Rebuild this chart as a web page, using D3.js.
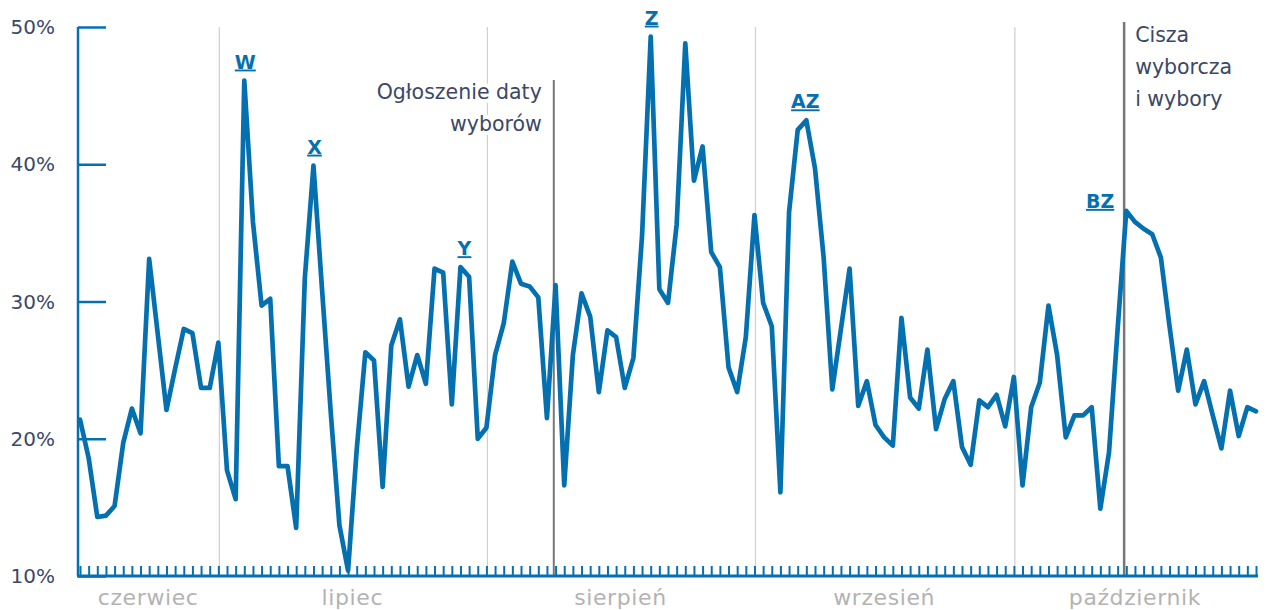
<!DOCTYPE html>
<html>
<head>
<meta charset="utf-8">
<script src="https://cdn.jsdelivr.net/npm/d3@7"></script>
<style>
  html, body { margin: 0; padding: 0; background: #fff; }
  svg { display: block; font-family: "DejaVu Sans", "Noto Sans", sans-serif; }
</style>
</head>
<body>
<svg id="chart" width="1266" height="610"></svg>
<script>
// ---- data ----
const startDate = "2023-06-15";
const endDate = "2023-10-29";
const values = [
  21.4, 18.6, 14.3, 14.4, 15.1, 19.7, 22.2, 20.4, 33.1, 27.6,
  22.1, 25.1, 28.0, 27.7, 23.7, 23.7, 27.0, 17.7, 15.6, 46.1,
  35.8, 29.7, 30.2, 18.0, 18.0, 13.5, 31.7, 39.9, 30.8, 21.9,
  13.7, 10.4, 19.2, 26.3, 25.7, 16.5, 26.8, 28.7, 23.8, 26.1,
  24.0, 32.4, 32.1, 22.5, 32.5, 31.8, 20.0, 20.8, 26.1, 28.4,
  32.9, 31.3, 31.1, 30.3, 21.5, 31.2, 16.6, 26.1, 30.6, 28.9,
  23.4, 27.9, 27.4, 23.7, 25.9, 34.8, 49.3, 30.9, 29.9, 35.6,
  48.8, 38.8, 41.3, 33.6, 32.5, 25.2, 23.4, 27.4, 36.3, 29.9,
  28.2, 16.1, 36.5, 42.5, 43.2, 39.7, 33.2, 23.6, 28.0, 32.4,
  22.4, 24.2, 21.0, 20.1, 19.5, 28.8, 23.0, 22.2, 26.5, 20.7,
  22.9, 24.2, 19.4, 18.1, 22.8, 22.3, 23.2, 20.9, 24.5, 16.6,
  22.3, 24.1, 29.7, 26.1, 20.1, 21.7, 21.7, 22.3, 14.9, 19.0,
  28.0, 36.6, 35.8, 35.3, 34.9, 33.2, 28.2, 23.5, 26.5, 22.5,
  24.2, 21.7, 19.3, 23.5, 20.2, 22.3, 22.0
];
const yTicks = [10, 20, 30, 40, 50];
const monthStarts = ["2023-07-01", "2023-08-01", "2023-09-01", "2023-10-01"];
const monthLabels = ["czerwiec", "lipiec", "sierpień", "wrzesień", "październik"];
const peakLabels = [
  { date: "2023-07-04", text: "W" },
  { date: "2023-07-12", text: "X" },
  { date: "2023-07-29", text: "Y" },
  { date: "2023-08-20", text: "Z" },
  { date: "2023-09-07", text: "AZ" },
  { date: "2023-10-14", text: "BZ" }
];
const events = [
  { date: "2023-08-08T19:00", lines: ["Ogłoszenie daty", "wyborów"], side: "left" },
  { date: "2023-10-13T18:00", lines: ["Cisza", "wyborcza", "i wybory"], side: "right" }
];

// ---- build ----
const parse = d3.timeParse("%Y-%m-%d");
const parseT = d3.isoParse;
const days = d3.timeDay.range(parse(startDate), d3.timeDay.offset(parse(endDate), 1));
const data = days.map((d, i) => ({ date: d, value: values[i] }));

const svg = d3.select("#chart");
const blue = "#0570b0";
const textDark = "#3b4866";
const x = d3.scaleTime().domain([parse(startDate), parse(endDate)]).range([80, 1256]);
const y = d3.scaleLinear().domain([10, 50]).range([576, 27]);
const axisLeftX = 78;

// month gridlines
svg.append("g").selectAll("line").data(monthStarts).join("line")
  .attr("x1", d => x(parse(d)) + 1).attr("x2", d => x(parse(d)) + 1)
  .attr("y1", y(50)).attr("y2", y(10))
  .attr("stroke", "#cfcfcf").attr("stroke-width", 1.2);

// event lines + text
events.forEach(ev => {
  const ex = x(parseT(ev.date));
  if (ev.side === "left") {
    svg.append("line").attr("x1", ex).attr("x2", ex).attr("y1", 80).attr("y2", y(10))
      .attr("stroke", "#777").attr("stroke-width", 2);
    const t = svg.append("text").attr("text-anchor", "end")
      .attr("font-size", 20.5).attr("fill", textDark)
      .attr("stroke", "#fff").attr("stroke-width", 8).attr("paint-order", "stroke")
      .attr("stroke-linejoin", "round");
    ev.lines.forEach((l, i) => t.append("tspan").attr("x", ex - 12).attr("y", 99 + i * 32).text(l));
  } else {
    svg.append("line").attr("x1", ex).attr("x2", ex).attr("y1", 22).attr("y2", y(10))
      .attr("stroke", "#777").attr("stroke-width", 2.5);
    const t = svg.append("text").attr("text-anchor", "start")
      .attr("font-size", 20.5).attr("fill", textDark);
    ev.lines.forEach((l, i) => t.append("tspan").attr("x", ex + 11).attr("y", 42 + i * 32).text(l));
  }
});

// y axis
const yAxis = d3.axisRight(y).tickValues(yTicks).tickSize(28).tickFormat("");
const gy = svg.append("g").attr("transform", `translate(${axisLeftX},0)`).call(yAxis);
gy.select(".domain").attr("stroke", blue).attr("stroke-width", 2.5).attr("d", `M0,${y(50)}V${y(10)}`);
gy.selectAll(".tick line").attr("stroke", blue).attr("stroke-width", 2.5);
svg.append("g").selectAll("text").data(yTicks).join("text")
  .attr("x", 55).attr("y", d => y(d)).attr("dy", "0.36em")
  .attr("text-anchor", "end").attr("font-size", 20).attr("fill", textDark)
  .text(d => d + "%");

// x axis: daily ticks pointing up
const xAxis = d3.axisTop(x).tickValues(days).tickSize(10).tickFormat("");
const gx = svg.append("g").attr("transform", `translate(0,${y(10)})`).call(xAxis);
gx.select(".domain").attr("d", `M${axisLeftX - 1},0H1258`).attr("stroke", blue).attr("stroke-width", 3);
gx.selectAll(".tick line").attr("stroke", blue).attr("stroke-width", 2);

// month labels centered in their visible span
const bounds = [x.range()[0] - 2, ...monthStarts.map(d => x(parse(d))), x.range()[1]];
svg.append("g").selectAll("text").data(monthLabels).join("text")
  .attr("x", (d, i) => (bounds[i] + bounds[i + 1]) / 2)
  .attr("y", 605).attr("text-anchor", "middle")
  .attr("font-size", 22).attr("letter-spacing", 0.6).attr("fill", "#b3b3b3").text(d => d);

// line
const line = d3.line().x(d => x(d.date)).y(d => y(d.value));
svg.append("path").datum(data).attr("d", line)
  .attr("fill", "none").attr("stroke", blue).attr("stroke-width", 4.7)
  .attr("stroke-linejoin", "round").attr("stroke-linecap", "round");

// peak labels
peakLabels.forEach(p => {
  const d = data.find(e => +e.date === +parse(p.date));
  const px = x(d.date), py = y(d.value);
  const isBZ = p.text === "BZ";
  svg.append("text")
    .attr("x", isBZ ? px - 12 : px + (p.text === "Y" ? 4 : (p.text === "AZ" ? -1 : 1)))
    .attr("y", isBZ ? py - 3 : py - 12)
    .attr("text-anchor", isBZ ? "end" : "middle")
    .attr("font-size", 19).attr("font-weight", "bold").attr("fill", blue)
    .attr("text-decoration", "underline")
    .text(p.text);
});
</script>
</body>
</html>
